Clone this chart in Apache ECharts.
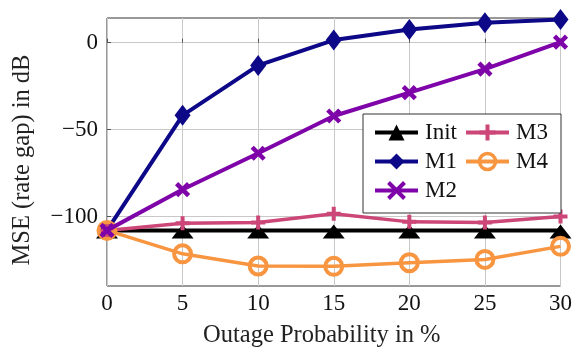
<!DOCTYPE html>
<html>
<head>
<meta charset="utf-8">
<script src="https://cdn.jsdelivr.net/npm/echarts@6/dist/echarts.min.js"></script>
<style>
  html, body { margin: 0; padding: 0; background: #fff; }
  #main { width: 579px; height: 353px; }
</style>
</head>
<body>
<div id="main"></div>
<script>
// outage probability (%)
var xs = [0, 5, 10, 15, 20, 25, 30];
// MSE in dB
var initVals = [-108, -108, -108, -108, -108, -108, -108];
var m1Vals = [-108, -41.8, -13.1, 1.5, 7.6, 11.4, 13.3];
var m2Vals = [-108, -84.5, -63.6, -42.2, -28.7, -15.2, 0.3];
var m3Vals = [-108, -103.9, -103.5, -98.4, -103.1, -103.5, -100];
var m4Vals = [-108, -121.5, -128.5, -128.7, -126.6, -124.7, -117.2];
var yTicks = [-100, -50, 0];

var serif = '"Liberation Serif", "DejaVu Serif", serif';
var myChart = echarts.init(document.getElementById('main'));

function pairs(vals) {
    return xs.map(function (x, i) { return [x, vals[i]]; });
}
function minus(v) { return String(v).replace('-', '\u2212'); }

var crossPath = 'path://M0,0 L10,10 M10,0 L0,10';
var plusPath = 'path://M5,0 L5,10 M0,5 L10,5';

// legend entries with thick lines like the plot
function entry(name, bw) {
    return { name: name, lineStyle: { width: 4 }, itemStyle: { borderWidth: bw } };
}

option = {
    animation: false,
    grid: { left: 107, right: 18.5, top: 18, bottom: 63.5, show: true, borderColor: '#333', borderWidth: 1 },
    xAxis: {
        type: 'value', min: 0, max: 30, interval: 5,
        name: 'Outage Probability in %', nameLocation: 'middle', nameGap: 37,
        nameTextStyle: { fontFamily: serif, fontSize: 24.5, color: '#222', padding: [0, 24, 0, 0] },
        axisLine: { show: false },
        axisTick: { show: true, inside: true, length: 4, lineStyle: { color: '#555' } },
        axisLabel: { fontFamily: serif, fontSize: 23, color: '#111', margin: 6 },
        splitLine: { show: true, lineStyle: { color: '#c8c8c8', width: 1 } }
    },
    yAxis: {
        type: 'value', min: -140, max: 14.2,
        name: 'MSE (rate gap) in dB', nameLocation: 'middle', nameGap: 72,
        nameTextStyle: { fontFamily: serif, fontSize: 24.5, color: '#222', padding: [0, 16, 0, 0] },
        axisLine: { show: false },
        axisTick: { show: true, inside: true, length: 4, customValues: yTicks, lineStyle: { color: '#555' } },
        axisLabel: { fontFamily: serif, fontSize: 23, color: '#111', margin: 9, customValues: yTicks, formatter: minus },
        splitLine: { show: true, lineStyle: { color: '#c8c8c8', width: 1 } }
    },
    graphic: [{
        type: 'rect', z: 50,
        shape: { x: 363, y: 114, width: 198, height: 99 },
        style: { fill: '#fff', stroke: '#333', lineWidth: 1 }
    }],
    legend: [{
        data: [entry('Init', 0), entry('M1', 0), entry('M2', 4)],
        orient: 'vertical', left: 373, top: 121, padding: 0,
        itemWidth: 43, itemHeight: 20, itemGap: 6, z: 60,
        textStyle: { fontFamily: serif, fontSize: 23, color: '#111', padding: [0, 0, 0, 2] }
    }, {
        data: [entry('M3', 4), entry('M4', 3.5)],
        orient: 'vertical', left: 464, top: 121, padding: 0,
        itemWidth: 43, itemHeight: 20, itemGap: 6, z: 60,
        textStyle: { fontFamily: serif, fontSize: 23, color: '#111', padding: [0, 0, 0, 2] }
    }],
    series: [
        {
            name: 'Init', type: 'line', data: pairs(initVals), z: 3,
            symbol: 'triangle', symbolSize: [22, 14], symbolOffset: [0, 1],
            lineStyle: { color: '#000', width: 4 },
            itemStyle: { color: '#000' }
        },
        {
            name: 'M1', type: 'line', data: pairs(m1Vals), z: 4,
            symbol: 'diamond', symbolSize: [16, 21],
            lineStyle: { color: '#0d0887', width: 4 },
            itemStyle: { color: '#0d0887' }
        },
        {
            name: 'M3', type: 'line', data: pairs(m3Vals), z: 5,
            symbol: plusPath, symbolSize: 14,
            lineStyle: { color: '#cc4778', width: 3.5 },
            itemStyle: { color: '#cc4778', borderColor: '#cc4778', borderWidth: 4 }
        },
        {
            name: 'M4', type: 'line', data: pairs(m4Vals), z: 6,
            symbol: 'circle', symbolSize: 17,
            lineStyle: { color: '#f89540', width: 3.5 },
            itemStyle: { color: 'rgba(255,255,255,0)', borderColor: '#f89540', borderWidth: 4 }
        },
        {
            name: 'M2', type: 'line', data: pairs(m2Vals), z: 7,
            symbol: crossPath, symbolSize: 12,
            lineStyle: { color: '#7e03a8', width: 4 },
            itemStyle: { color: '#7e03a8', borderColor: '#7e03a8', borderWidth: 4.5 }
        }
    ]
};

myChart.setOption(option);
</script>
</body>
</html>
